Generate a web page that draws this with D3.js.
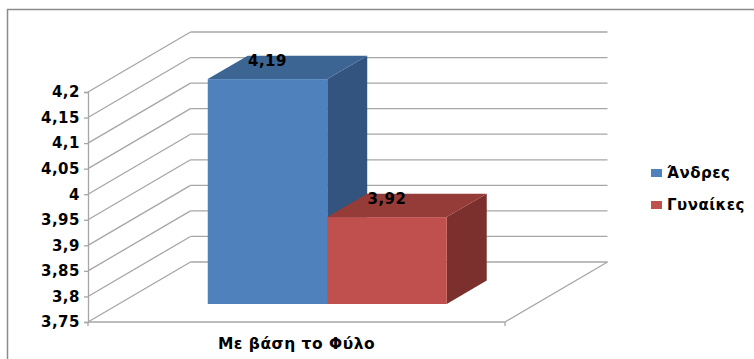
<!DOCTYPE html>
<html>
<head>
<meta charset="utf-8">
<script src="https://cdn.jsdelivr.net/npm/d3@7/dist/d3.min.js"></script>
<style>
  html, body { margin: 0; padding: 0; background: #fff; }
  svg { display: block; }
  text { font-family: "DejaVu Sans", Verdana, sans-serif; font-weight: bold; fill: #000; letter-spacing: 0.5px; }
</style>
</head>
<body>
<svg id="chart" width="754" height="359"></svg>
<script>
// Data
const categories = ["Με βάση το Φύλο"];
const seriesNames = ["Άνδρες", "Γυναίκες"];
const seriesValues = [[4.19], [3.92]];
const yTicks = [3.75, 3.8, 3.85, 3.9, 3.95, 4, 4.05, 4.1, 4.15, 4.2];

const frontColors = ["#4F81BD", "#C0504D"];
const topColors   = ["#3D6594", "#953B38"];
const sideColors  = ["#32547F", "#7C302E"];

const svg = d3.select("#chart");
const W = 754, H = 359;

// Outer frame (only top and left edges fall inside the view)
svg.append("path")
  .attr("d", `M7.5,${H} L7.5,9.5 L${W},9.5`)
  .attr("fill", "none").attr("stroke", "#8c8c8c").attr("stroke-width", 1.5);

// 3D projection: depth offset of the back wall
const DX = 102.5, DY = -60;
const y = d3.scaleLinear().domain([3.75, 4.2]).range([322, 92]);
const x = d3.scaleBand().domain(categories).range([88, 505]).paddingInner(0).paddingOuter(0);
const fmt = v => String(v).replace(".", ",");

const grid = svg.append("g").attr("fill", "none").attr("stroke", "#a6a6a6").attr("stroke-width", 1.3);
const x0 = x.range()[0], x1 = x.range()[1];
// Side wall diagonals and back wall lines
yTicks.forEach(t => {
  const yy = y(t);
  grid.append("line").attr("x1", x0).attr("y1", yy).attr("x2", x0 + DX).attr("y2", yy + DY);
  grid.append("line").attr("x1", x0 + DX).attr("y1", yy + DY).attr("x2", x1 + DX).attr("y2", yy + DY);
});
// Floor
grid.append("line").attr("x1", x0).attr("y1", y(3.75)).attr("x2", x1).attr("y2", y(3.75));
grid.append("line").attr("x1", x1).attr("y1", y(3.75)).attr("x2", x1 + DX).attr("y2", y(3.75) + DY);
// Category axis end ticks
[x0, x1].forEach(xx => grid.append("line").attr("x1", xx).attr("y1", y(3.75)).attr("x2", xx).attr("y2", y(3.75) + 4));

// Value axis
const yAxis = d3.axisLeft(y).tickValues(yTicks).tickFormat(fmt).tickSize(4).tickPadding(4);
const ya = svg.append("g").attr("transform", `translate(${x0},0)`).call(yAxis);
ya.select(".domain").attr("stroke", "#a6a6a6").attr("stroke-width", 1.3);
ya.selectAll(".tick line").attr("stroke", "#a6a6a6").attr("stroke-width", 1.3);
ya.selectAll(".tick text").attr("font-size", 15).attr("font-family", "DejaVu Sans").attr("font-weight", "bold").attr("fill", "#000");

// Category label
svg.append("text")
  .attr("x", x(categories[0]) + x.bandwidth() / 2).attr("y", 349)
  .attr("text-anchor", "middle").attr("font-size", 15.5)
  .text(categories[0]);

// Bars: front face placed part way into the depth
const zFront = 0.3, zDepth = 0.39;
const groupW = 239;
const sx = d3.scaleBand().domain(seriesNames).range([0, groupW]);
const bars = svg.append("g");
seriesNames.forEach((name, si) => {
  categories.forEach((cat, ci) => {
    const v = seriesValues[si][ci];
    const ox = zFront * DX, oy = zFront * DY;
    const bx = x(cat) + (x.bandwidth() - groupW) / 2 + sx(name) + ox;
    const bw = sx.bandwidth();
    const yt = y(v) + oy, yb = y(3.75) + oy;
    const ddx = zDepth * DX, ddy = zDepth * DY;
    // right side
    bars.append("path")
      .attr("d", `M${bx + bw},${yt} L${bx + bw + ddx},${yt + ddy} L${bx + bw + ddx},${yb + ddy} L${bx + bw},${yb} Z`)
      .attr("fill", sideColors[si]);
    // top
    bars.append("path")
      .attr("d", `M${bx},${yt} L${bx + ddx},${yt + ddy} L${bx + bw + ddx},${yt + ddy} L${bx + bw},${yt} Z`)
      .attr("fill", topColors[si]);
    // front
    bars.append("rect").attr("x", bx).attr("y", yt).attr("width", bw).attr("height", yb - yt)
      .attr("fill", frontColors[si]);
    // value label
    bars.append("text")
      .attr("x", bx + bw / 2).attr("y", yt - 13)
      .attr("text-anchor", "middle").attr("font-size", 15)
      .text(fmt(v));
  });
});

// Legend
const legend = svg.append("g");
seriesNames.forEach((name, si) => {
  const ly = 173 + si * 32;
  legend.append("rect").attr("x", 651).attr("y", ly - 4).attr("width", 11).attr("height", 8).attr("fill", frontColors[si]);
  legend.append("text").attr("x", 667).attr("y", ly + 5).attr("font-size", 15).text(name);
});
</script>
</body>
</html>
